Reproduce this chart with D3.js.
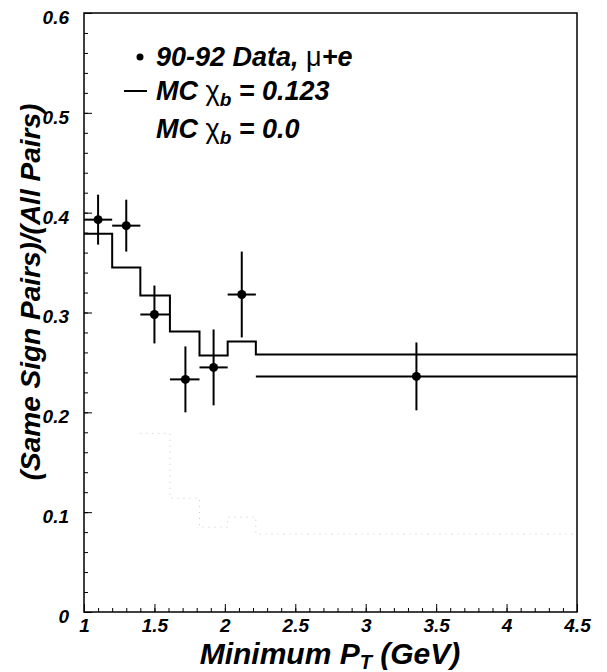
<!DOCTYPE html>
<html>
<head>
<meta charset="utf-8">
<script src="https://cdn.jsdelivr.net/npm/d3@7"></script>
<style>
  body { margin: 0; background: #fff; }
  text { font-family: "Liberation Sans", Arial, sans-serif; font-weight: bold; font-style: italic; }
</style>
</head>
<body>
<div id="chart"></div>
<script>
// bin edges in minimum pT (GeV)
var binEdges = [1.0, 1.2, 1.4, 1.61, 1.82, 2.02, 2.22, 4.5];

// 90-92 data, mu+e
var dataX   = [1.1, 1.3, 1.5, 1.72, 1.92, 2.12, 3.36];
var dataY   = [0.393, 0.387, 0.298, 0.233, 0.245, 0.318, 0.236];
var dataErr = [0.025, 0.026, 0.029, 0.033, 0.038, 0.043, 0.034];

// MC histograms, one value per bin
var mc0123 = [0.379, 0.345, 0.317, 0.281, 0.257, 0.271, 0.258];
var mc00   = [null, null, 0.179, 0.114, 0.085, 0.095, 0.078];

var yTicks = [0, 0.1, 0.2, 0.3, 0.4, 0.5, 0.6];
var xTicks = [1, 1.5, 2, 2.5, 3, 3.5, 4, 4.5];

var W = 607, H = 672;
var padL = 84, padR = 577, padT = 13, padB = 612;

var svg = d3.select("#chart").append("svg")
  .attr("width", W)
  .attr("height", H);

var x = d3.scaleLinear().domain([1, 4.5]).range([padL, padR]);
var y = d3.scaleLinear().domain([0, 0.6]).range([padB, padT]);

// minor ticks first, then major ticks + labels (ticks point inward)
svg.append("g")
  .attr("transform", "translate(" + padL + ",0)")
  .call(d3.axisLeft(y).tickValues(d3.range(0, 0.601, 0.02)).tickSize(-4).tickFormat(""))
  .call(function(g) { g.select(".domain").remove(); });
svg.append("g")
  .attr("transform", "translate(0," + padB + ")")
  .call(d3.axisBottom(x).tickValues(d3.range(1, 4.501, 0.1)).tickSize(-4).tickFormat(""))
  .call(function(g) { g.select(".domain").remove(); });

var yAxis = svg.append("g")
  .attr("transform", "translate(" + padL + ",0)")
  .call(d3.axisLeft(y).tickValues(yTicks).tickSize(-8).tickPadding(15)
    .tickFormat(function(d) { return d === 0 ? "0" : d.toFixed(1); }));
yAxis.select(".domain").remove();
yAxis.selectAll("text").attr("font-size", 19).attr("dy", "0.55em");

var xAxis = svg.append("g")
  .attr("transform", "translate(0," + padB + ")")
  .call(d3.axisBottom(x).tickValues(xTicks).tickSize(-8).tickPadding(7)
    .tickFormat(d3.format("~g")));
xAxis.select(".domain").remove();
xAxis.selectAll("text").attr("font-size", 19);

svg.selectAll(".tick line").attr("stroke", "#000");
svg.selectAll(".tick text").attr("fill", "#000");

// frame
svg.append("rect")
  .attr("x", padL).attr("y", padT)
  .attr("width", padR - padL).attr("height", padB - padT)
  .attr("fill", "none")
  .attr("stroke", "#000")
  .attr("stroke-width", 1.5);

// step histogram path from per-bin values (null = not drawn)
function stepPath(vals) {
  var segs = [];
  var cur = [];
  vals.forEach(function(v, i) {
    if (v === null) { if (cur.length) segs.push(cur); cur = []; return; }
    cur.push([binEdges[i], v], [binEdges[i + 1], v]);
  });
  if (cur.length) segs.push(cur);
  var line = d3.line().x(function(d) { return x(d[0]); }).y(function(d) { return y(d[1]); });
  return segs.map(line).join("");
}

svg.append("path")
  .attr("d", stepPath(mc00))
  .attr("fill", "none")
  .attr("stroke", "#c8c8c8")
  .attr("stroke-width", 1)
  .attr("stroke-dasharray", "1,5");

svg.append("path")
  .attr("d", stepPath(mc0123))
  .attr("fill", "none")
  .attr("stroke", "#000")
  .attr("stroke-width", 2);

// data points with errors; horizontal bar = bin width
var pts = svg.append("g").attr("stroke", "#000").attr("stroke-width", 2);
dataX.forEach(function(cx, i) {
  pts.append("line")
    .attr("x1", x(binEdges[i])).attr("x2", x(binEdges[i + 1]))
    .attr("y1", y(dataY[i])).attr("y2", y(dataY[i]));
  pts.append("line")
    .attr("x1", x(cx)).attr("x2", x(cx))
    .attr("y1", y(dataY[i] - dataErr[i])).attr("y2", y(dataY[i] + dataErr[i]));
  pts.append("circle")
    .attr("cx", x(cx)).attr("cy", y(dataY[i]))
    .attr("r", 4.5)
    .attr("fill", "#000")
    .attr("stroke", "none");
});

// legend
var leg = svg.append("g").attr("font-size", 27);
leg.append("circle").attr("cx", 140).attr("cy", 57).attr("r", 3.5).attr("fill", "#000");
var t1 = leg.append("text").attr("x", 156).attr("y", 66);
t1.append("tspan").text("90-92 Data, ");
t1.append("tspan").attr("font-weight", "normal").attr("font-style", "normal").text("\u03bc");
t1.append("tspan").text("+e");

leg.append("line").attr("x1", 124).attr("x2", 147).attr("y1", 91).attr("y2", 91)
  .attr("stroke", "#000").attr("stroke-width", 2);

function mcLabel(yy, val) {
  var t = leg.append("text").attr("x", 156).attr("y", yy);
  t.append("tspan").text("MC ");
  t.append("tspan").attr("font-weight", "normal").attr("font-style", "normal").text("\u03c7");
  t.append("tspan").attr("font-size", 19).attr("dy", 6).text("b");
  t.append("tspan").attr("dy", -6).text(" = " + val);
}
mcLabel(100, "0.123");
mcLabel(138, "0.0");

// axis titles
svg.append("text")
  .attr("transform", "translate(40,292) rotate(-90)")
  .attr("text-anchor", "middle")
  .attr("font-size", 28)
  .text("(Same Sign Pairs)/(All Pairs)");

var xt = svg.append("text")
  .attr("x", 330).attr("y", 664)
  .attr("text-anchor", "middle")
  .attr("font-size", 30);
xt.append("tspan").text("Minimum P");
xt.append("tspan").attr("font-size", 20).attr("dy", 5).text("T");
xt.append("tspan").attr("dy", -5).text(" (GeV)");
</script>
</body>
</html>
